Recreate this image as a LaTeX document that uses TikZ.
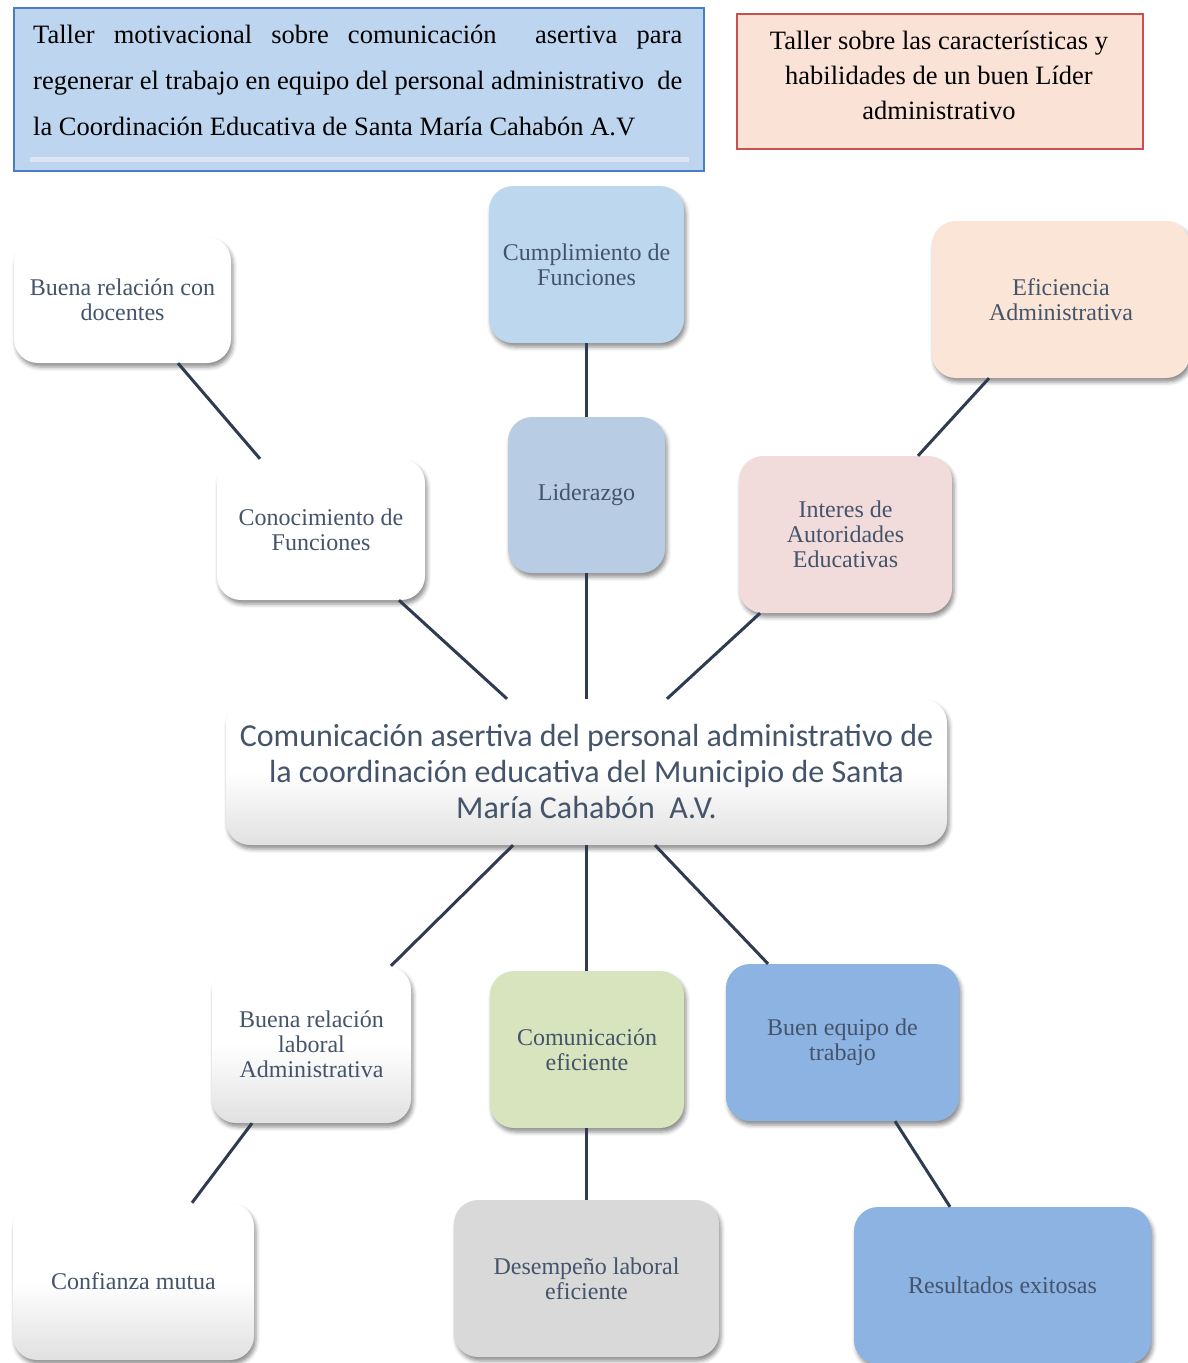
\documentclass[tikz,border=0pt]{standalone}
\usepackage{fontspec}
\setmainfont{Liberation Serif}
\newfontfamily\calibfont{Carlito}
\usetikzlibrary{shadows.blur}
\definecolor{txt}{HTML}{44546A}
\definecolor{lineclr}{HTML}{2E3B50}
\definecolor{tlfill}{HTML}{BDD5EE}
\definecolor{tlborder}{HTML}{4A7CC8}
\definecolor{tlinner}{HTML}{DCE6F4}
\definecolor{trfill}{HTML}{FBE2D6}
\definecolor{trborder}{HTML}{C9504F}
\definecolor{lblue}{HTML}{BDD7EE}
\definecolor{peach}{HTML}{FBE5D6}
\definecolor{slate}{HTML}{B8CCE4}
\definecolor{pink}{HTML}{F2DCDB}
\definecolor{lgreen}{HTML}{D7E4BD}
\definecolor{mblue}{HTML}{8DB3E2}
\definecolor{lgray}{HTML}{D9D9D9}
\begin{document}
\begin{tikzpicture}[x=1pt,y=-1pt,
  box/.style={rectangle, rounded corners=24pt, inner sep=0pt, align=center,
    text=txt, font=\fontsize{24}{25}\selectfont,
    blur shadow={shadow xshift=2pt, shadow yshift=-4pt, shadow blur radius=4pt, shadow opacity=45}},
  grad/.style={top color=white, bottom color=black!12, middle color=white},
  conn/.style={draw=lineclr, line width=3pt},
  plain/.style={inner sep=0pt, text=black, font=\fontsize{26.5}{35}\selectfont}
]
\useasboundingbox (0,0) rectangle (1188,1363);

% top-left workshop box
\node[draw=tlborder, line width=2pt, fill=tlfill, minimum width=690pt, minimum height=163pt, anchor=north west, inner sep=0pt] (t1) at (13,7) {};
\draw[draw=tlinner, line width=5pt] ([xshift=17pt,yshift=13pt]t1.south west) -- ([xshift=-16pt,yshift=13pt]t1.south east);
\node[plain, anchor=base west] (t1a) at (33,43) {\makebox[649pt][s]{Taller motivacional sobre comunicación \ asertiva para}};
\node[plain, anchor=base west] (t1b) at (33,89) {\makebox[649pt][s]{regenerar el trabajo en equipo del personal administrativo \ de}};
\node[plain, anchor=base west] (t1c) at (33,135) {la Coordinación Educativa de Santa María Cahabón A.V};

% top-right workshop box
\node[draw=trborder, line width=2pt, fill=trfill, minimum width=406pt, minimum height=135pt, anchor=north west, inner sep=0pt] (t2) at (736,13) {};
\node[plain, align=center] (t2t) at (939,75) {Taller sobre las características y\\habilidades de un buen Líder\\administrativo};

% concept nodes
\node[box, fill=white, minimum width=217pt, minimum height=126pt] (n1) at (122.5,300) {Buena relación con\\docentes};
\node[box, fill=lblue, minimum width=195pt, minimum height=157pt] (n2) at (586.5,264.5) {Cumplimiento de\\Funciones};
\node[box, fill=peach, minimum width=258pt, minimum height=157pt] (n3) at (1061,299.5) {Eficiencia\\Administrativa};
\node[box, fill=white, minimum width=208pt, minimum height=141pt] (n4) at (321,529.5) {Conocimiento de\\Funciones};
\node[box, fill=slate, minimum width=157pt, minimum height=156pt] (n5) at (586.5,495) {Liderazgo};
\node[box, fill=pink, minimum width=213pt, minimum height=157pt] (n6) at (845.5,534.5) {Interes de\\Autoridades\\Educativas};
\node[box, grad, minimum width=721pt, minimum height=146pt, font=\calibfont\fontsize{32}{36}\selectfont] (cen) at (586.5,772) {Comunicación asertiva del personal administrativo de\\la coordinación educativa del Municipio de Santa\\María Cahabón \ A.V.};
\node[box, grad, minimum width=199pt, minimum height=157pt] (n7) at (311.5,1044.5) {Buena relación\\laboral\\Administrativa};
\node[box, fill=lgreen, minimum width=194pt, minimum height=157pt] (n8) at (587,1049.5) {Comunicación\\eficiente};
\node[box, fill=mblue, minimum width=233pt, minimum height=157pt] (n9) at (842.5,1042.5) {Buen equipo de\\trabajo};
\node[box, grad, minimum width=241pt, minimum height=157pt] (n10) at (133.5,1281.5) {Confianza mutua};
\node[box, fill=lgray, minimum width=265pt, minimum height=157pt] (n11) at (586.5,1278.5) {Desempeño laboral\\eficiente};
\node[box, fill=mblue, minimum width=297pt, minimum height=157pt] (n12) at (1002.5,1285.5) {Resultados exitosas};

% connectors
\draw[conn] ([xshift=55.5pt]n1.south) -- ([xshift=-61pt]n4.north);
\draw[conn] (n2.south) -- (n5.north);
\draw[conn] ([xshift=-72pt]n3.south) -- ([xshift=72.5pt]n6.north);
\draw[conn] ([xshift=78pt]n4.south) -- ([xshift=-79.5pt]cen.north);
\draw[conn] (n5.south) -- (cen.north);
\draw[conn] ([xshift=-85.5pt]n6.south) -- ([xshift=80.5pt]cen.north);
\draw[conn] ([xshift=-73.5pt]cen.south) -- ([xshift=79.5pt]n7.north);
\draw[conn] (cen.south) -- ([xshift=-0.5pt]n8.north);
\draw[conn] ([xshift=68.5pt]cen.south) -- ([xshift=-74.5pt]n9.north);
\draw[conn] ([xshift=-59.5pt]n7.south) -- ([xshift=58.5pt]n10.north);
\draw[conn] ([xshift=-0.5pt]n8.south) -- (n11.north);
\draw[conn] ([xshift=52.5pt]n9.south) -- ([xshift=-52.5pt]n12.north);
\end{tikzpicture}
\end{document}
